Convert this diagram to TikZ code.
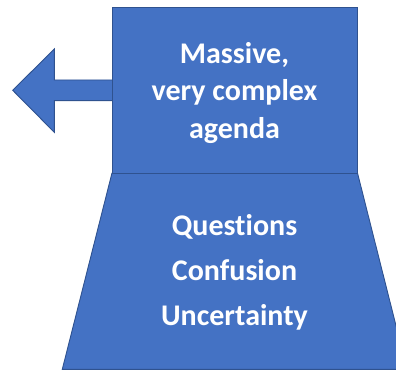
\documentclass[tikz,border=0pt]{standalone}
\usepackage{fontspec}
\setmainfont{Carlito}[RawFeature={-liga}]
\definecolor{boxfill}{HTML}{4472C4}
\definecolor{boxline}{HTML}{2F528F}
\begin{document}
\begin{tikzpicture}[x=1pt,y=-1pt,
  bluepart/.style={fill=boxfill,draw=boxline,line width=0.9pt,line join=miter},
  whitetext/.style={text=white,font=\bfseries\fontsize{30}{37.5}\selectfont,align=center,inner sep=0pt}]
\useasboundingbox (0,0) rectangle (396,371);
\clip (0,0) rectangle (396,371);
% arrow
\draw[bluepart] (112,80) -- (54.3,80) -- (54.3,49) -- (12.7,90.3) -- (54.3,132.3) -- (54.3,100.7) -- (112,100.7);
% trapezoid
\draw[bluepart] (112,173) -- (357.5,173) -- (407,369.3) -- (62.3,369.3) -- cycle;
% top rectangle
\draw[bluepart] (112,7.3) rectangle (357,173);
\node[whitetext] (top) at (234.5,93) {Massive,\\very complex\\agenda};
\node[whitetext,font=\bfseries\fontsize{30}{45}\selectfont] (bottom) at (234.5,272) {Questions\\Confusion\\Uncertainty};
\end{tikzpicture}
\end{document}
